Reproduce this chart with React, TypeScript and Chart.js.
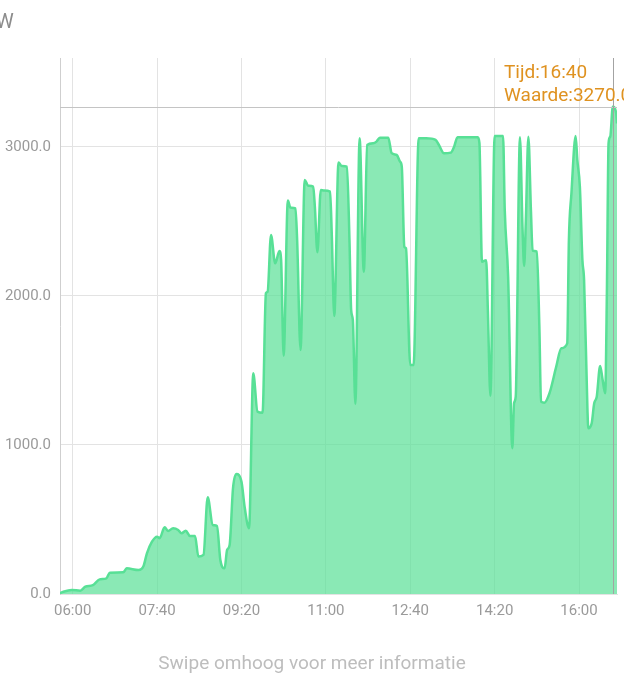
import React, { useEffect, useRef } from 'react';
import { Chart, registerables } from 'chart.js';

Chart.register(...registerables);

// ---- data ----
const times: string[] = [
  '05:45', '05:49', '05:59', '06:09', '06:15', '06:24', '06:32', '06:40', '06:44', '07:00',
  '07:04', '07:18', '07:24', '07:28', '07:34', '07:40', '07:43', '07:49', '07:53', '07:59',
  '08:05', '08:09', '08:14', '08:19', '08:25', '08:29', '08:35', '08:40', '08:46', '08:51',
  '08:55', '09:00', '09:03', '09:06', '09:10', '09:14', '09:20', '09:24', '09:29', '09:34',
  '09:39', '09:45', '09:49', '09:51', '09:55', '10:00', '10:05', '10:07', '10:10', '10:15',
  '10:18', '10:24', '10:26', '10:30', '10:35', '10:39', '10:45', '10:47', '10:50', '10:54',
  '10:58', '11:05', '11:07', '11:10', '11:15', '11:19', '11:25', '11:28', '11:30', '11:32',
  '11:35', '11:40', '11:45', '11:49', '11:56', '12:00', '12:04', '12:14', '12:18', '12:24',
  '12:28', '12:30', '12:33', '12:35', '12:40', '12:44', '12:50', '12:59', '13:10', '13:14',
  '13:20', '13:28', '13:32', '13:36', '14:00', '14:02', '14:05', '14:10', '14:12', '14:15',
  '14:20', '14:30', '14:32', '14:36', '14:41', '14:43', '14:45', '14:50', '14:53', '14:55',
  '14:57', '15:00', '15:03', '15:05', '15:10', '15:13', '15:15', '15:19', '15:25', '15:33',
  '15:39', '15:46', '15:48', '15:51', '15:56', '15:58', '16:01', '16:04', '16:06', '16:10',
  '16:11', '16:15', '16:18', '16:21', '16:25', '16:28', '16:31', '16:33', '16:35', '16:37',
  '16:40', '16:44', '16:45',
];

const values: number[] = [
  5, 15, 27, 22, 49, 60, 98, 105, 143, 146,
  172, 161, 188, 273, 351, 385, 374, 448, 423, 441,
  430, 407, 425, 389, 389, 251, 262, 649, 463, 456,
  228, 172, 295, 329, 709, 805, 754, 575, 441, 1481,
  1224, 1217, 2018, 2029, 2409, 2219, 2302, 2242, 1600, 2640,
  2593, 2588, 2376, 1638, 2779, 2740, 2734, 2599, 2293, 2711,
  2707, 2700, 2421, 1866, 2895, 2872, 2868, 2376, 1906, 1839,
  1275, 3058, 2163, 3013, 3025, 3036, 3062, 3062, 2958, 2946,
  2901, 2868, 2331, 2320, 1537, 1537, 3058, 3058, 3047, 3013,
  2958, 2962, 3002, 3065, 3065, 3025, 2230, 2240, 1900, 1330,
  3074, 3074, 2577, 2130, 978, 1280, 1324, 3065, 2465, 2201,
  2510, 3069, 2577, 2304, 2298, 1795, 1291, 1284, 1347, 1526,
  1649, 1682, 2376, 2689, 3074, 2913, 2734, 2242, 2107, 1235,
  1112, 1146, 1280, 1324, 1530, 1436, 1347, 2018, 3025, 3069,
  3270, 3226, 3158,
];

const xTickLabels: string[] = ['06:00', '07:40', '09:20', '11:00', '12:40', '14:20', '16:00'];
const yTickValues: number[] = [0, 1000, 2000, 3000];
const xRange: string[] = ['05:45', '16:45'];
const yMax = 3597;
const unitLabel = 'W';
const markerTime = '16:40';
const markerValue = 3270;
const footerText = 'Swipe omhoog voor meer informatie';

const toMin = (s: string) => {
  const [h, m] = s.split(':').map(Number);
  return h * 60 + m;
};
const fmt = (v: number) => {
  const h = Math.floor(v / 60);
  const m = Math.round(v - h * 60);
  return String(h).padStart(2, '0') + ':' + String(m).padStart(2, '0');
};

const FONT = 'Roboto';

const overlayPlugin = {
  id: 'overlay',
  afterDatasetsDraw(chart: any) {
    const { ctx, chartArea, scales } = chart;
    const px = Math.round(scales.x.getPixelForValue(toMin(markerTime)));
    const py = Math.round(scales.y.getPixelForValue(markerValue));
    ctx.save();
    ctx.lineWidth = 1;
    ctx.strokeStyle = '#c4c4c4';
    ctx.beginPath();
    ctx.moveTo(chartArea.left, py + 0.5);
    ctx.lineTo(chartArea.right, py + 0.5);
    ctx.stroke();
    ctx.strokeStyle = '#a3a3a3';
    ctx.beginPath();
    ctx.moveTo(px + 0.5, chartArea.top);
    ctx.lineTo(px + 0.5, chartArea.bottom);
    ctx.stroke();

    ctx.fillStyle = '#df9220';
    ctx.font = `19px ${FONT}`;
    ctx.textAlign = 'left';
    ctx.textBaseline = 'alphabetic';
    ctx.fillText('Tijd:' + markerTime, px - 109, chartArea.top + 20);
    ctx.fillText('Waarde:' + markerValue.toFixed(1), px - 109, chartArea.top + 43);

    ctx.fillStyle = '#8c8c8c';
    ctx.font = `20px ${FONT}`;
    ctx.fillText(unitLabel, -4, 28);

    ctx.fillStyle = '#bdbdbd';
    ctx.font = `19px ${FONT}`;
    ctx.textAlign = 'center';
    ctx.fillText(footerText, chart.width / 2, 669);
    ctx.restore();
  },
};

export default function App() {
  const canvasRef = useRef<HTMLCanvasElement | null>(null);

  useEffect(() => {
    const canvas = canvasRef.current;
    if (!canvas) return;
    const chart = new Chart(canvas, {
      type: 'line',
      data: {
        datasets: [
          {
            data: times.map((t, i) => ({ x: toMin(t), y: values[i] })),
            borderColor: 'rgb(88,224,150)',
            backgroundColor: 'rgba(88,224,150,0.7)',
            fill: 'origin',
            borderWidth: 2.5,
            pointRadius: 0,
            cubicInterpolationMode: 'monotone',
          },
        ],
      },
      options: {
        animation: false,
        responsive: false,
        devicePixelRatio: 1,
        events: [],
        layout: { padding: { top: 58, right: 7, left: 0, bottom: 0 } },
        plugins: { legend: { display: false }, tooltip: { enabled: false } },
        scales: {
          x: {
            type: 'linear',
            min: toMin(xRange[0]),
            max: toMin(xRange[1]),
            afterBuildTicks: (s: any) => {
              s.ticks = xTickLabels.map((l) => ({ value: toMin(l) }));
            },
            afterFit: (s: any) => {
              s.height = 90;
            },
            ticks: {
              callback: (v: any) => fmt(Number(v)),
              color: '#9a9a9a',
              font: { family: FONT, size: 15 },
              padding: 8,
              maxRotation: 0,
              autoSkip: false,
            },
            grid: { color: '#e3e3e3', drawTicks: false },
            border: { display: true, color: '#e3e3e3' },
          },
          y: {
            min: 0,
            max: yMax,
            afterBuildTicks: (s: any) => {
              s.ticks = yTickValues.map((v) => ({ value: v }));
            },
            afterFit: (s: any) => {
              s.width = 60;
            },
            ticks: {
              callback: (v: any) => Number(v).toFixed(1),
              color: '#9a9a9a',
              font: { family: FONT, size: 15 },
              padding: 9,
            },
            grid: { color: '#e3e3e3', drawTicks: false },
            border: { display: true, color: '#cfcfcf' },
          },
        },
      } as any,
      plugins: [overlayPlugin],
    });
    return () => chart.destroy();
  }, []);

  return (
    <div style={{ position: 'absolute', left: 0, top: 0, width: 624, height: 684, background: '#fff' }}>
      <canvas ref={canvasRef} width={624} height={684} style={{ display: 'block' }} />
    </div>
  );
}
